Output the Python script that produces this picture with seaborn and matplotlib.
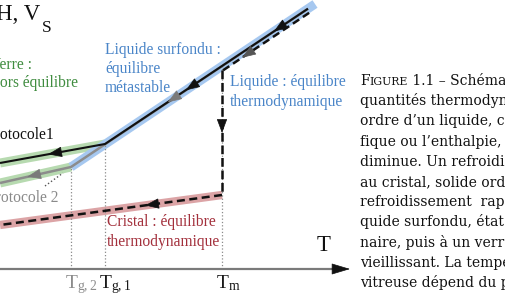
import matplotlib
matplotlib.use("Agg")
import numpy as np
import matplotlib.pyplot as plt
import seaborn as sns
from matplotlib.transforms import offset_copy, ScaledTranslation

sns.set_style("white")
plt.rcParams["font.family"] = ["Liberation Serif", "DejaVu Serif"]
plt.rcParams["mathtext.fontset"] = "custom"
plt.rcParams["mathtext.rm"] = "Liberation Serif"
plt.rcParams["mathtext.it"] = "Liberation Serif:italic"

# ---------------- data (schematic, arbitrary units) ----------------
temp_ticks = [71, 105, 222]                      # T_g,2  T_g,1  T_m
tick_labels = [r"$\mathrm{T_{g,2}}$", r"$\mathrm{T_{g,1}}$", r"$\mathrm{T_m}$"]
tick_colors = ["#8c8c8c", "#1a1a1a", "#1a1a1a"]

liquid_T = [71, 315]
liquid_H = [134, 297]
glass1_T = [0, 105]
glass1_H = [138, 157]
glass2_T = [0, 71]
glass2_H = [118, 134]
crystal_T = [0, 222]
crystal_H = [76, 106]
path_top_T = 308
axis_H = 32
axis_T_end = 350

caption = [
    "quantités thermodynamiques du premier",
    "ordre d’un liquide, comme le volume spéci-",
    "fique ou l’enthalpie, quand la température",
    "diminue. Un refroidissement lent conduit",
    "au cristal, solide ordonné. Un",
    "refroidissement  rapide conduit au li-",
    "quide surfondu, état d’équilibre station-",
    "naire, puis à un verre, hors équilibre et",
    "vieillissant. La température de transition",
    "vitreuse dépend du protocole.",
]

W, Hpx = 506, 301
GREEN_BAND, BLUE_BAND, RED_BAND = "#b7dab0", "#a6c8f0", "#dca4a6"
GREEN_TXT, BLUE_TXT, RED_TXT, GRAY_TXT = "#3f8c3f", "#4a85c8", "#a3303c", "#8a8a8a"

fig = plt.figure(figsize=(W / 100, Hpx / 100), dpi=100)
ax = fig.add_axes([0, 0, 1, 1])
ax.set_xlim(0, W)
ax.set_ylim(0, Hpx)


def liq(t):
    return float(np.interp(t, liquid_T, liquid_H))


def line(T, Hv, color, lw, **kw):
    sns.lineplot(x=T, y=Hv, sort=False, estimator=None, color=color, lw=lw, ax=ax,
                 solid_capstyle="butt", dash_capstyle="butt", **kw)
    return ax.lines[-1]


# bands
line(glass1_T, glass1_H, GREEN_BAND, 6.5)
line(glass2_T, glass2_H, GREEN_BAND, 6.5)
line(liquid_T, liquid_H, BLUE_BAND, 6.5)
line(crystal_T, crystal_H, RED_BAND, 6.0)

# dotted verticals
for t, h in zip(temp_ticks, [glass2_H[1], glass1_H[1], liq(temp_ticks[2])]):
    line([t, t], [axis_H, h], "#8a8a8a", 0.9, linestyle=":")

# protocol 2 (grey) and protocol 1 (black)
p2_T = [path_top_T, glass2_T[1], glass2_T[0]]
p2_H = [liq(path_top_T), glass2_H[1], glass2_H[0]]
line(p2_T, p2_H, "#8c8c8c", 1.8)
p1_T = [path_top_T, glass1_T[1], glass1_T[0]]
p1_H = [liq(path_top_T), glass1_H[1], glass1_H[0]]
line(p1_T, p1_H, "#111111", 1.5)

# dashed path: liquid -> crystallisation at Tm -> crystal
l = line([path_top_T, temp_ticks[2]], [liq(path_top_T), liq(temp_ticks[2])], "#111111", 1.8)
l.set_dashes((3.0, 1.8))
l.set_transform(offset_copy(ax.transData, fig=fig, x=0.8, y=-3.0, units="points"))
l = line([temp_ticks[2], temp_ticks[2]], [liq(temp_ticks[2]) - 4, crystal_H[1]], "#111111", 1.8)
l.set_dashes((3.5, 1.5))
l = line([crystal_T[1], crystal_T[0]], [crystal_H[1], crystal_H[0]], "#111111", 1.8)
l.set_dashes((3.2, 1.8))


def arrow(x, y, dx, dy, color, trans=None, scale=12):
    trans = trans or ax.transData
    p = trans.transform((x, y))
    q = trans.transform((x + dx, y + dy))
    d = (q - p) / np.hypot(*(q - p))
    tip, tail = p + d * 5, p - d * 5
    ax.annotate("", xy=tip, xytext=tail, xycoords="figure pixels", textcoords="figure pixels",
                arrowprops=dict(arrowstyle="-|>,head_length=0.75,head_width=0.28",
                                color=color, lw=0.5, mutation_scale=scale,
                                shrinkA=0, shrinkB=0))


# arrows on the glass lines (cooling)
t = 53
arrow(t, np.interp(t, glass1_T, glass1_H), -1, -(glass1_H[1] - glass1_H[0]) / glass1_T[1], "#111111")
t = 32
arrow(t, np.interp(t, glass2_T, glass2_H), -1, -(glass2_H[1] - glass2_H[0]) / glass2_T[1], "#7a7a7a")
slope = (liquid_H[1] - liquid_H[0]) / (liquid_T[1] - liquid_T[0])
for t in [190, 278]:
    arrow(t, liq(t), -1, -slope, "#111111")
arrow(172, liq(172), -1, -slope, "#7a7a7a")
arrow(245, liq(245), -1, -slope, "#555555",
      trans=offset_copy(ax.transData, fig=fig, x=0.8, y=-3.0, units="points"))
arrow(temp_ticks[2], 173, 0, -1, "#111111")
t = 150
arrow(t, np.interp(t, crystal_T, crystal_H), -1, -(crystal_H[1] - crystal_H[0]) / crystal_T[1], "#111111")

# axis
for s in ["top", "left", "right"]:
    ax.spines[s].set_visible(False)
ax.spines["bottom"].set_position(("data", axis_H))
ax.spines["bottom"].set_bounds(0, axis_T_end - 14)
ax.spines["bottom"].set_color("#7a7a7a")
ax.spines["bottom"].set_linewidth(1.6)
ax.annotate("", xy=(axis_T_end, axis_H), xytext=(axis_T_end - 18, axis_H),
            arrowprops=dict(arrowstyle="-|>,head_length=1.0,head_width=0.3",
                            color="#111111", lw=0.5, mutation_scale=12, shrinkA=0, shrinkB=0))
ax.set_yticks([])
ax.set_xticks(temp_ticks)
ax.set_xticklabels(tick_labels, fontsize=14)
ax.tick_params(axis="x", length=0, pad=3)
for lab, c in zip(ax.get_xticklabels(), tick_colors):
    lab.set_color(c)
    lab.set_horizontalalignment("left")
    lab.set_transform(lab.get_transform() + ScaledTranslation(-0.055, 0, fig.dpi_scale_trans))


def txt(x, y, s, **kw):
    return fig.text(x / W, 1 - y / Hpx, s, va="baseline", **kw)


txt(-4, 20, "H, V", fontsize=16.5, color="#111111")
txt(42, 32, "S", fontsize=12.5, color="#111111")
txt(317, 251, "T", fontsize=16.5, color="#111111")

fs = 11.2
txt(-10, 69, "Verre :", fontsize=fs, color=GREEN_TXT)
txt(-8, 87, "hors équilibre", fontsize=fs, color=GREEN_TXT)
txt(-13, 139, "Protocole1", fontsize=fs, color="#111111")
txt(-13, 202, "Protocole 2", fontsize=fs, color=GRAY_TXT)
ax.plot([45, 63], [Hpx - 186, Hpx - 173], ls=":", color="#555555", lw=1.0)
txt(105, 54, "Liquide surfondu :", fontsize=fs, color=BLUE_TXT)
txt(105, 73, "équilibre", fontsize=fs, color=BLUE_TXT)
txt(105, 92, "métastable", fontsize=fs, color=BLUE_TXT)
txt(230, 86, "Liquide : équilibre", fontsize=fs, color=BLUE_TXT)
txt(230, 106, "thermodynamique", fontsize=fs, color=BLUE_TXT)
txt(107, 226, "Cristal : équilibre", fontsize=fs, color=RED_TXT)
txt(107, 246, "thermodynamique", fontsize=fs, color=RED_TXT)

# caption (cut by the figure edge)
cfam = ["DejaVu Serif"]
cfs = 10.0
x0, y0, dy = 360, 85, 20.2
r = fig.canvas.get_renderer()
t1 = txt(x0, y0, "F", fontsize=cfs, family=cfam, color="#111111")
w1 = t1.get_window_extent(r).width
t2 = txt(x0 + w1, y0, "IGURE", fontsize=cfs * 0.78, family=cfam, color="#111111")
w2 = t2.get_window_extent(r).width
txt(x0 + w1 + w2, y0, " 1.1 – Schéma des", fontsize=cfs, family=cfam, color="#111111")
for i, s in enumerate(caption):
    txt(x0, y0 + (i + 1) * dy, s, fontsize=cfs, family=cfam, color="#111111")

fig.savefig("out.png", dpi=100)
